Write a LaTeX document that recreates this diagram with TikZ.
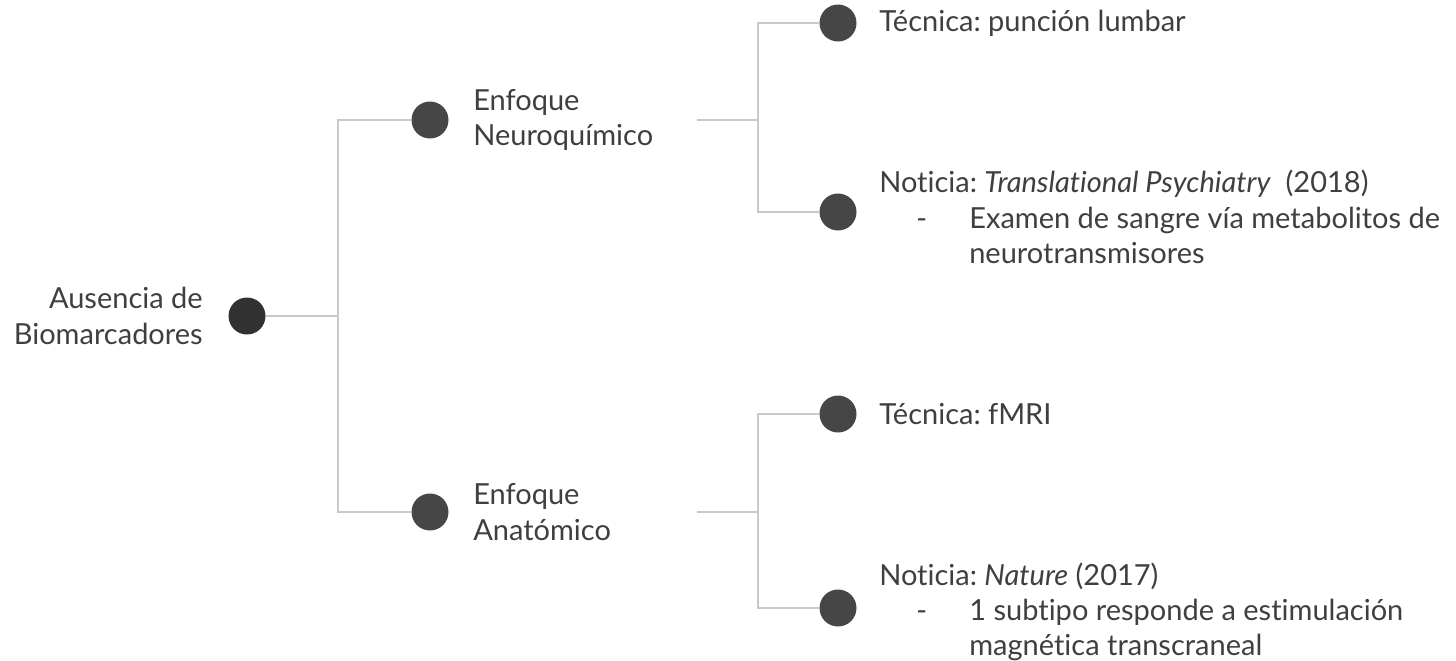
\documentclass[tikz,border=0pt]{standalone}
\usepackage{fontspec}
\setmainfont{Lato}[Ligatures={TeX,NoCommon}]
\frenchspacing
\usetikzlibrary{
	positioning
}
\definecolor{rootgray}{HTML}{313131}
\definecolor{dotgray}{HTML}{464646}
\definecolor{linegray}{HTML}{C9C9C9}
\definecolor{textgray}{HTML}{3F3F3F}
\tikzset{
	dot/.style={
		circle,
		fill=dotgray,
		inner sep=0pt,
		minimum size=18.5pt
	},
	root dot/.style={
		dot,
		fill=rootgray
	},
	label text/.style={
		text=textgray,
		font=\fontsize{14.5}{17.6}\selectfont,
		inner sep=0pt,
		align=left
	},
	branch/.style={
		draw=linegray,
		line width=1pt
	}
}
\newcommand{\dashitem}[1]{\makebox[45pt][l]{\hspace*{18.5pt}-}#1}

\begin{document}
\begin{tikzpicture}[x=0.5pt,y=-0.5pt] %%%% ARBOL
		\useasboundingbox (0,0) rectangle (1456,660);
		% raiz
		\node [root dot] (root) at (247,316) {};
		\node [label text, align=right, left=12.5pt of root] (rootlbl) {Ausencia de\\Biomarcadores};
		% enfoques
		\node [dot] (neuro) at (430,120) {};
		\node [dot] (anat) at (430,512) {};
		\node [label text, right=12pt of neuro] (neurolbl) {Enfoque\\Neuroquímico};
		\node [label text, right=12pt of anat] (anatlbl) {Enfoque\\Anatómico};
		% hojas
		\node [dot] (puncion) at (838,23) {};
		\node [dot] (psych) at (838,212) {};
		\node [dot] (fmri) at (838,414) {};
		\node [dot] (nature) at (838,608) {};
		\node [label text, right=11pt of puncion] (puncionlbl) {Técnica: punción lumbar};
		\node [label text, right=11pt of psych, yshift=-2.5pt] (psychlbl) {Noticia: \textit{Translational Psychiatry}~~(2018)\\
			\dashitem{Examen de sangre vía metabolitos de}\\
			\hspace*{45pt}neurotransmisores};
		\node [label text, right=11pt of fmri] (fmrilbl) {Técnica: fMRI};
		\node [label text, right=11pt of nature, yshift=-2pt] (naturelbl) {Noticia: \textit{Nature} (2017)\\
			\dashitem{1 subtipo responde a estimulación}\\
			\hspace*{45pt}magnética transcraneal};
		% ramas
		\coordinate (jroot) at (338,316);
		\coordinate (neuroout) at (697,120);
		\coordinate (jneuro) at (758,120);
		\coordinate (anatout) at (697,512);
		\coordinate (janat) at (758,512);
		\draw [branch] (root) -- (jroot) |- (neuro);
		\draw [branch] (jroot) |- (anat);
		\draw [branch] (neuroout) -- (jneuro) |- (puncion);
		\draw [branch] (jneuro) |- (psych);
		\draw [branch] (anatout) -- (janat) |- (fmri);
		\draw [branch] (janat) |- (nature);
	\end{tikzpicture}
\end{document}
